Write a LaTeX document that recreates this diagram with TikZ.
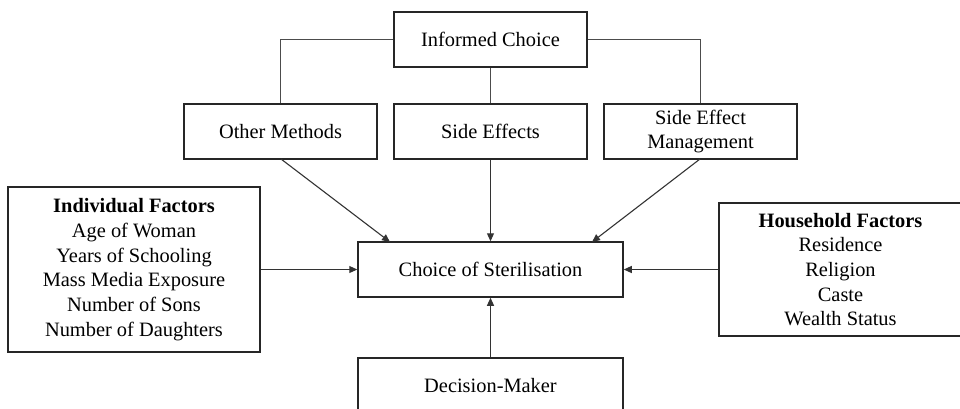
\documentclass[tikz,border=0pt]{standalone}
\usepackage{fontspec}
\setmainfont{Liberation Serif}
\usetikzlibrary{arrows.meta}
\begin{document}
\begin{tikzpicture}[x=1pt,y=-1pt,
  box/.style={draw=black!85, line width=1.5pt, inner sep=0pt, align=center,
    font=\fontsize{20.4}{24.7}\selectfont},
  link/.style={draw=black!70, line width=1.1pt},
  arr/.style={draw=black!80, line width=1.1pt, -{Triangle[length=8pt,width=7pt]}}]
\useasboundingbox (0,0) rectangle (960,408);
\fill[white] (0,0) rectangle (960,408);
\node[box, minimum width=193pt, minimum height=55pt] (ic) at (490.5,39.5) {Informed Choice};
\node[box, minimum width=193pt, minimum height=55pt] (om) at (280.5,131.5) {Other Methods};
\node[box, minimum width=193pt, minimum height=55pt] (se) at (490.5,131.5) {Side Effects};
\node[box, minimum width=193pt, minimum height=55pt] (sem) at (700.5,131.5) {Side Effect\\Management};
\node[box, minimum width=265pt, minimum height=55pt] (cs) at (490.5,269.5) {Choice of Sterilisation};
\node[box, minimum width=252pt, minimum height=165pt] (ind) at (134,269.5)
  {\textbf{Individual Factors}\\Age of Woman\\Years of Schooling\\Mass Media Exposure\\Number of Sons\\Number of Daughters};
\node[box, minimum width=243pt, minimum height=133pt] (hh) at (840.5,269.5)
  {\textbf{Household Factors}\\Residence\\Religion\\Caste\\Wealth Status};
\node[box, minimum width=265pt, minimum height=55pt] (dm) at (490.5,385.5) {Decision-Maker};
\coordinate (omb) at (281,159);
\coordinate (semb) at (700,159);
\coordinate (csl) at (390,242);
\coordinate (csr) at (592,242);
\draw[link] (ic.west) -| (om.north);
\draw[link] (ic.east) -| (sem.north);
\draw[link] (ic.south) -- (se.north);
\draw[arr] (omb) -- (csl);
\draw[arr] (se.south) -- (cs.north);
\draw[arr] (semb) -- (csr);
\draw[arr] (ind.east) -- (cs.west);
\draw[arr] (hh.west) -- (cs.east);
\draw[arr] (dm.north) -- (cs.south);
\end{tikzpicture}
\end{document}
